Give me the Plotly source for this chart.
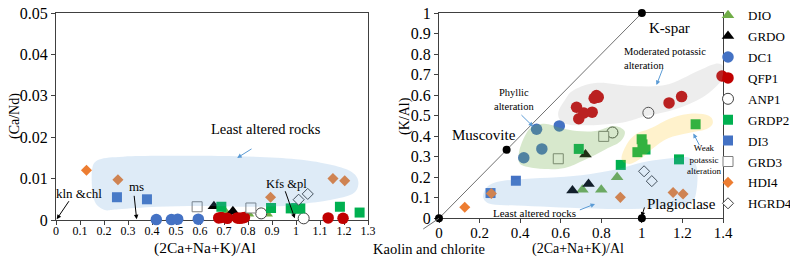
import plotly.graph_objects as go

FONT = "Liberation Serif"

# ---------------- data ----------------
series_names = ["DIO", "GRDO", "DC1", "QFP1", "ANP1", "GRDP2", "DI3", "GRD3", "HDI4", "HGRD4"]

# (2Ca+Na+K)/Al
dio_x = [0.707, 0.800, 0.878]
grdo_x = [0.658, 0.737, 0.722]
dc1_x = [0.418, 0.481, 0.507, 0.593]
qfp1_x = [0.678, 0.689, 0.714, 0.755, 0.765, 0.776, 0.785, 1.134, 1.196, 1.395]
anp1_x = [0.855, 1.032]
grdp2_x = [0.689, 0.896, 0.978, 0.999, 1.003, 1.018, 1.183, 1.265]
di3_x = [0.254, 0.379]
grd3_x = [0.588, 0.812]
hdi4_x = [0.127, 0.258, 0.894, 1.154, 1.203]
hgrd4_x = [1.011, 1.049]

# Ca/Nd
dio_cand = [0.0018, 0.0015, 0.0015]
grdo_cand = [0.0033, 0.0021, 0.0010]
dc1_cand = [0.0001, 0.0001, 0.0002, 0.0002]
qfp1_cand = [0.0005, 0.0006, 0.0004, 0.0005, 0.0004, 0.0005, 0.0006, 0.0005, 0.0004, 0.0004]
anp1_cand = [0.0016, 0.0004]
grdp2_cand = [0.0032, 0.0029, 0.0028, 0.0028, 0.0028, 0.0028, 0.0032, 0.0018]
di3_cand = [0.0055, 0.0050]
grd3_cand = [0.0032, 0.0029]
hdi4_cand = [0.0120, 0.0097, 0.0055, 0.0100, 0.0095]
hgrd4_cand = [0.0049, 0.0063]

# K/Al
dio_kal = [0.139, 0.139, 0.200]
grdo_kal = [0.136, 0.167, 0.311]
dc1_kal = [0.295, 0.434, 0.338, 0.450]
qfp1_kal = [0.541, 0.485, 0.513, 0.517, 0.585, 0.598, 0.590, 0.562, 0.593, 0.693]
anp1_kal = [0.418, 0.514]
grdp2_kal = [0.338, 0.260, 0.322, 0.385, 0.360, 0.335, 0.287, 0.458]
di3_kal = [0.123, 0.183]
grd3_kal = [0.290, 0.399]
hdi4_kal = [0.054, 0.121, 0.102, 0.126, 0.118]
hgrd4_kal = [0.229, 0.181]

# reference minerals (Kaolin, Muscovite, Plagioclase, K-spar)
mineral_x = [0.0, 1 / 3, 1.0, 1.0]
mineral_kal = [0.0, 1 / 3, 0.0, 1.0]

left_xticks = [0, 0.1, 0.2, 0.3, 0.4, 0.5, 0.6, 0.7, 0.8, 0.9, 1, 1.1, 1.2, 1.3]
left_yticks = [0, 0.01, 0.02, 0.03, 0.04, 0.05]
right_xticks = [0, 0.2, 0.4, 0.6, 0.8, 1, 1.2, 1.4]
right_yticks = [0, 0.1, 0.2, 0.3, 0.4, 0.5, 0.6, 0.7, 0.8, 0.9, 1]

data = {
    "DIO": (dio_x, dio_cand, dio_kal),
    "GRDO": (grdo_x, grdo_cand, grdo_kal),
    "DC1": (dc1_x, dc1_cand, dc1_kal),
    "QFP1": (qfp1_x, qfp1_cand, qfp1_kal),
    "ANP1": (anp1_x, anp1_cand, anp1_kal),
    "GRDP2": (grdp2_x, grdp2_cand, grdp2_kal),
    "DI3": (di3_x, di3_cand, di3_kal),
    "GRD3": (grd3_x, grd3_cand, grd3_kal),
    "HDI4": (hdi4_x, hdi4_cand, hdi4_kal),
    "HGRD4": (hgrd4_x, hgrd4_cand, hgrd4_kal),
}

# ---------------- styles ----------------
styles = {
    "DIO": dict(symbol="triangle-up", size=11, color="#70AD47", line=dict(width=0)),
    "GRDO": dict(symbol="triangle-up", size=11, color="#000000", line=dict(width=0)),
    "DC1": dict(symbol="circle", size=11.5, color="#4472C4", line=dict(width=0)),
    "QFP1": dict(symbol="circle", size=11.5, color="#C00000", line=dict(width=0)),
    "ANP1": dict(symbol="circle", size=11, color="#FFFFFF", line=dict(width=1, color="#404040")),
    "GRDP2": dict(symbol="square", size=10, color="#00B050", line=dict(width=0)),
    "DI3": dict(symbol="square", size=10, color="#4472C4", line=dict(width=0)),
    "GRD3": dict(symbol="square", size=10, color="#FFFFFF", line=dict(width=1, color="#7F7F7F")),
    "HDI4": dict(symbol="diamond", size=8.5, color="#ED7D31", line=dict(width=0)),
    "HGRD4": dict(symbol="diamond", size=8.5, color="#FFFFFF", line=dict(width=1, color="#404040")),
}

# page body has an 8 px margin: lay out in reference pixels, shifted by it
OFF = 8
W, H = 798 - OFF, 264 - OFF


def fx(px):
    return (px - OFF) / W


def fy(py):
    return 1 - (py - OFF) / H


PLOT_TOP = 13.0  # reference top is ~9.3 px, kept a little lower so top labels are not cut

fig = go.Figure()

LEFT_XMAX = 1.3
for name in series_names:
    xs, ycn, ykal = data[name]
    lx = [x for x in xs if x <= LEFT_XMAX]
    ly = [y for x, y in zip(xs, ycn) if x <= LEFT_XMAX]
    fig.add_trace(go.Scatter(x=lx, y=ly, mode="markers", name=name, legendgroup=name,
                             marker=styles[name], cliponaxis=False, xaxis="x", yaxis="y"))
    fig.add_trace(go.Scatter(x=xs, y=ykal, mode="markers", name=name, legendgroup=name,
                             showlegend=False, marker=styles[name], cliponaxis=False,
                             xaxis="x2", yaxis="y2"))

# diagonal kaolin - muscovite - K-spar
fig.add_trace(go.Scatter(x=[mineral_x[0], mineral_x[3]], y=[mineral_kal[0], mineral_kal[3]],
                         mode="lines", line=dict(color="#707070", width=1), showlegend=False,
                         cliponaxis=False, xaxis="x2", yaxis="y2", hoverinfo="skip"))
fig.add_trace(go.Scatter(x=mineral_x, y=mineral_kal, mode="markers",
                         marker=dict(symbol="circle", size=8, color="#000000"), showlegend=False,
                         cliponaxis=False, xaxis="x2", yaxis="y2"))


# ---------------- shaded fields ----------------
def smooth_path(pts):
    n = len(pts)
    s = "M %.4f,%.5f" % pts[0]
    for i in range(n):
        p0 = pts[i - 1]
        p1 = pts[i]
        p2 = pts[(i + 1) % n]
        p3 = pts[(i + 2) % n]
        c1 = (p1[0] + (p2[0] - p0[0]) / 6, p1[1] + (p2[1] - p0[1]) / 6)
        c2 = (p2[0] - (p3[0] - p1[0]) / 6, p2[1] - (p3[1] - p1[1]) / 6)
        s += " C %.4f,%.5f %.4f,%.5f %.4f,%.5f" % (c1[0], c1[1], c2[0], c2[1], p2[0], p2[1])
    return s + " Z"


left_blue = [(0.15, 0.0120), (0.18, 0.0146), (0.28, 0.0153), (0.45, 0.0155), (0.75, 0.0154),
             (1.00, 0.0147), (1.15, 0.0133), (1.235, 0.0115), (1.26, 0.0090), (1.235, 0.0063),
             (1.13, 0.0047), (1.04, 0.0040), (0.95, 0.0034), (0.80, 0.0032), (0.60, 0.0034),
             (0.42, 0.0032), (0.26, 0.0026), (0.20, 0.0025), (0.158, 0.0050)]
gray_field = [(0.588, 0.518), (0.62, 0.575), (0.665, 0.625), (0.78, 0.660), (0.95, 0.645),
              (1.12, 0.650), (1.27, 0.715), (1.36, 0.752), (1.40, 0.74), (1.40, 0.68),
              (1.30, 0.590), (1.16, 0.530), (1.00, 0.492), (0.90, 0.465), (0.78, 0.455),
              (0.65, 0.455), (0.60, 0.475)]
green_field = [(0.392, 0.300), (0.405, 0.360), (0.45, 0.440), (0.52, 0.460), (0.60, 0.440),
               (0.68, 0.425), (0.77, 0.425), (0.86, 0.450), (0.915, 0.425), (0.895, 0.375),
               (0.82, 0.335), (0.72, 0.285), (0.62, 0.245), (0.52, 0.240), (0.44, 0.250),
               (0.40, 0.265)]
yellow_field = [(0.90, 0.290), (0.925, 0.360), (0.97, 0.410), (1.04, 0.437), (1.15, 0.490),
                (1.25, 0.510), (1.33, 0.500), (1.35, 0.465), (1.32, 0.435), (1.23, 0.415),
                (1.13, 0.390), (1.06, 0.345), (1.00, 0.295), (0.94, 0.265)]
blue_field = [(0.218, 0.100), (0.235, 0.150), (0.29, 0.178), (0.42, 0.192), (0.58, 0.200),
              (0.74, 0.215), (0.88, 0.240), (1.00, 0.272), (1.12, 0.290), (1.23, 0.296),
              (1.27, 0.250), (1.27, 0.140), (1.24, 0.075), (1.12, 0.055), (0.95, 0.045),
              (0.75, 0.048), (0.55, 0.055), (0.38, 0.062), (0.26, 0.068)]

shapes = [
    dict(type="path", xref="x", yref="y", path=smooth_path(left_blue),
         fillcolor="rgba(91,155,213,0.20)", line=dict(width=0), layer="above"),
    dict(type="path", xref="x2", yref="y2", path=smooth_path(gray_field),
         fillcolor="rgba(165,165,165,0.20)", line=dict(width=0), layer="above"),
    dict(type="path", xref="x2", yref="y2", path=smooth_path(green_field),
         fillcolor="rgba(112,173,71,0.28)", line=dict(width=0), layer="above"),
    dict(type="path", xref="x2", yref="y2", path=smooth_path(yellow_field),
         fillcolor="rgba(255,192,0,0.20)", line=dict(width=0), layer="above"),
    dict(type="path", xref="x2", yref="y2", path=smooth_path(blue_field),
         fillcolor="rgba(91,155,213,0.20)", line=dict(width=0), layer="above"),
]

# ---------------- annotations ----------------
BLUE_ARROW = "#5B9BD5"
ann = []


def text(x, y, t, size, xref="x", yref="y", **kw):
    d = dict(x=x, y=y, xref=xref, yref=yref, text=t, showarrow=False,
             xanchor="center", yanchor="middle",
             font=dict(family=FONT, size=size, color="#000000"))
    d.update(kw)
    ann.append(d)


def arrow(x, y, ax, ay, xref, yref, color, head=2, size=0.9):
    ann.append(dict(x=x, y=y, ax=ax, ay=ay, xref=xref, yref=yref, axref=xref, ayref=yref,
                    text="", showarrow=True, arrowhead=head, arrowsize=size, arrowwidth=1,
                    arrowcolor=color, standoff=0, startstandoff=0))


# left panel
text(0.873, 0.0221, "Least altered rocks", 14.5)
arrow(0.755, 0.0150, 0.821, 0.0174, "x", "y", BLUE_ARROW)
text(0.096, 0.0065, "kln &amp;chl", 13)
arrow(0.003, 0.0002, 0.058, 0.0049, "x", "y", "#000000")
text(0.336, 0.0080, "ms", 13)
arrow(0.336, 0.0002, 0.325, 0.0062, "x", "y", "#000000")
text(0.960, 0.0087, "Kfs &amp;pl", 12.5)
arrow(0.995, 0.0004, 0.953, 0.0073, "x", "y", "#000000")

# right panel
text(1.137, 0.925, "K-spar", 15, "x2", "y2")
text(0.222, 0.404, "Muscovite", 15, "x2", "y2")
text(1.197, 0.072, "Plagioclase", 15, "x2", "y2")
arrow(0.999, 0.008, 1.015, 0.060, "x2", "y2", "#000000")
text(0.90, 0.780, "Moderated potassic<br>alteration", 10.5, "x2", "y2", xanchor="left", align="left")
arrow(1.072, 0.649, 1.105, 0.734, "x2", "y2", BLUE_ARROW)
text(0.371, 0.579, "Phyllic<br>alteration", 10.5, "x2", "y2")
arrow(0.464, 0.447, 0.399, 0.510, "x2", "y2", BLUE_ARROW)
text(1.305, 0.286, "Weak<br>potassic<br>alteration", 9, "x2", "y2")
arrow(1.254, 0.413, 1.287, 0.350, "x2", "y2", BLUE_ARROW)
text(0.473, 0.027, "Least altered rocks", 11, "x2", "y2")
arrow(0.769, 0.070, 0.687, 0.038, "x2", "y2", BLUE_ARROW)
arrow(0.0, 0.0, -0.085, -0.057, "x2", "y2", "#707070", head=0)

# axis titles (paper coordinates)
text(fx(204.7), fy(247.5), "(2Ca+Na+K)/Al", 15.5, "paper", "paper")
text(fx(578), fy(249), "(2Ca+Na+K)/Al", 14, "paper", "paper")
text(fx(429), fy(248.5), "Kaolin and chlorite", 14.5, "paper", "paper")
text(fx(15), fy(116), "(Ca/Nd)", 14, "paper", "paper", textangle=-90)
text(fx(405), fy(116), "(K/Al)", 14, "paper", "paper", textangle=-90)

axis_common = dict(showgrid=False, zeroline=False, showline=True, linecolor="#404040", linewidth=1,
                   mirror=True, ticks="outside", ticklen=4, tickcolor="#404040",
                   layer="below traces", fixedrange=True, ticklabeloverflow="allow")

# legend: vertical, anchored at its middle so the first row sits near the top edge
LEG_FONT = 13
GROUP_GAP = 1
row_h = LEG_FONT * 1.3 + 3 + GROUP_GAP
leg_h = 8.8 + 10 * row_h
first_row_center = 15.7 - OFF
leg_top = first_row_center - (4.4 + row_h / 2)
leg_mid = leg_top + leg_h / 2
LEG_TEXT_X = 749  # reference px where legend labels start

fig.update_layout(
    width=W, height=H,
    margin=dict(l=0, r=0, t=0, b=0, autoexpand=False),
    paper_bgcolor="white", plot_bgcolor="white",
    font=dict(family=FONT, size=14, color="#000000"),
    shapes=shapes, annotations=ann,
    xaxis=dict(domain=[fx(56), fx(368)], range=[0, 1.3], tickvals=left_xticks,
               ticktext=[("%g" % v) for v in left_xticks], ticklabelstandoff=-4,
               tickfont=dict(family=FONT, size=12), anchor="y", **axis_common),
    yaxis=dict(domain=[fy(220), fy(PLOT_TOP)], range=[0, 0.05], tickvals=left_yticks,
               ticktext=[("%g" % v) for v in left_yticks],
               tickfont=dict(family=FONT, size=16), anchor="x", **axis_common),
    xaxis2=dict(domain=[fx(439), fx(723)], range=[0, 1.4], tickvals=right_xticks,
                ticktext=[("%g" % v) for v in right_xticks], ticklabelstandoff=-3,
                tickfont=dict(family=FONT, size=15), anchor="y2", **axis_common),
    yaxis2=dict(domain=[fy(218.3), fy(PLOT_TOP)], range=[0, 1], tickvals=right_yticks,
                ticktext=[("%g" % v) for v in right_yticks],
                tickfont=dict(family=FONT, size=16), anchor="x2", **axis_common),
    legend=dict(x=(LEG_TEXT_X - OFF - 41) / W, y=1 - leg_mid / H, xanchor="left", yanchor="middle",
                font=dict(family=FONT, size=LEG_FONT, color="#000000"),
                bgcolor="rgba(0,0,0,0)", tracegroupgap=GROUP_GAP, borderwidth=0),
    showlegend=True,
)

fig.write_html("out.html")
